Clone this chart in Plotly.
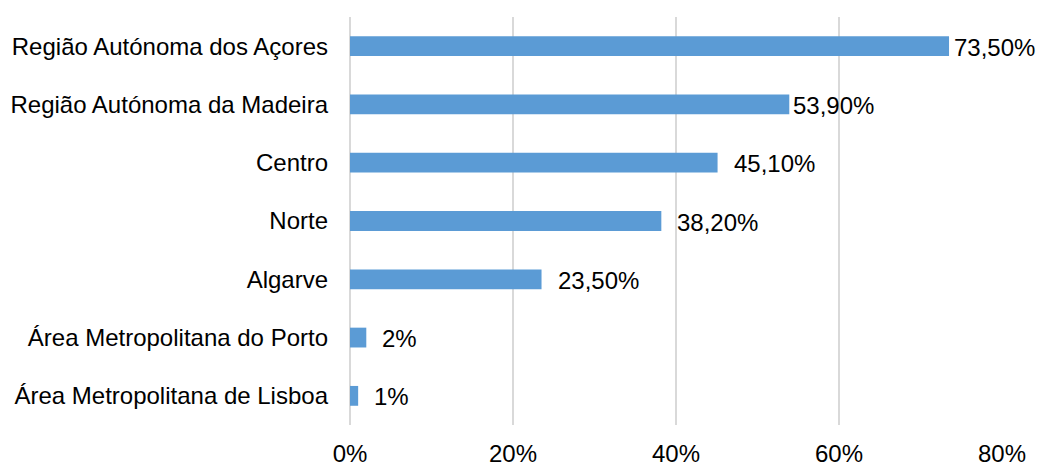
import plotly.graph_objects as go

# Regions (top to bottom as shown) and their percentages
regioes = [
    "Região Autónoma dos Açores",
    "Região Autónoma da Madeira",
    "Centro",
    "Norte",
    "Algarve",
    "Área Metropolitana do Porto",
    "Área Metropolitana de Lisboa",
]
valores = [73.5, 53.9, 45.1, 38.2, 23.5, 2, 1]
rotulos = ["73,50%", "53,90%", "45,10%", "38,20%", "23,50%", "2%", "1%"]
x_ticks = [0, 20, 40, 60, 80]
x_tick_labels = ["0%", "20%", "40%", "60%", "80%"]

# label offsets from the bar ends (pixels)
desloc = [3, 2, 14, 14, 14, 14, 14]

FONT = "Liberation Sans, Arial, sans-serif"
FS = 24

fig = go.Figure()
fig.add_trace(go.Bar(
    y=regioes,
    x=valores,
    orientation="h",
    marker=dict(color="#5B9BD5", line=dict(width=0)),
    width=0.34,
    hoverinfo="skip",
))

for r, v, t, d in zip(regioes, valores, rotulos, desloc):
    fig.add_annotation(
        x=v, y=r, text=t, showarrow=False,
        xanchor="left", yanchor="middle", xshift=d, yshift=-1,
        font=dict(family=FONT, size=FS, color="#000000"),
    )

fig.update_layout(
    width=1037, height=464,
    margin=dict(l=350, r=35, t=17, b=39, autoexpand=False),
    paper_bgcolor="white", plot_bgcolor="white",
    showlegend=False,
    font=dict(family=FONT, size=FS, color="#000000"),
)
fig.update_xaxes(
    range=[0, 80],
    tickvals=x_ticks, ticktext=x_tick_labels,
    showgrid=True, gridcolor="#D9D9D9", gridwidth=2,
    zeroline=True, zerolinecolor="#D9D9D9", zerolinewidth=2,
    showline=False, ticks="",
    automargin=False,
    ticklabelstandoff=12,
    tickfont=dict(family=FONT, size=FS, color="#000000"),
    fixedrange=True,
)
fig.update_yaxes(
    categoryorder="array", categoryarray=regioes[::-1],
    range=[-0.5, 6.5],
    showgrid=False, zeroline=False, showline=False, ticks="",
    automargin=False,
    ticklabelstandoff=21,
    tickfont=dict(family=FONT, size=FS, color="#000000"),
    fixedrange=True,
)

fig.write_html("out.html")
